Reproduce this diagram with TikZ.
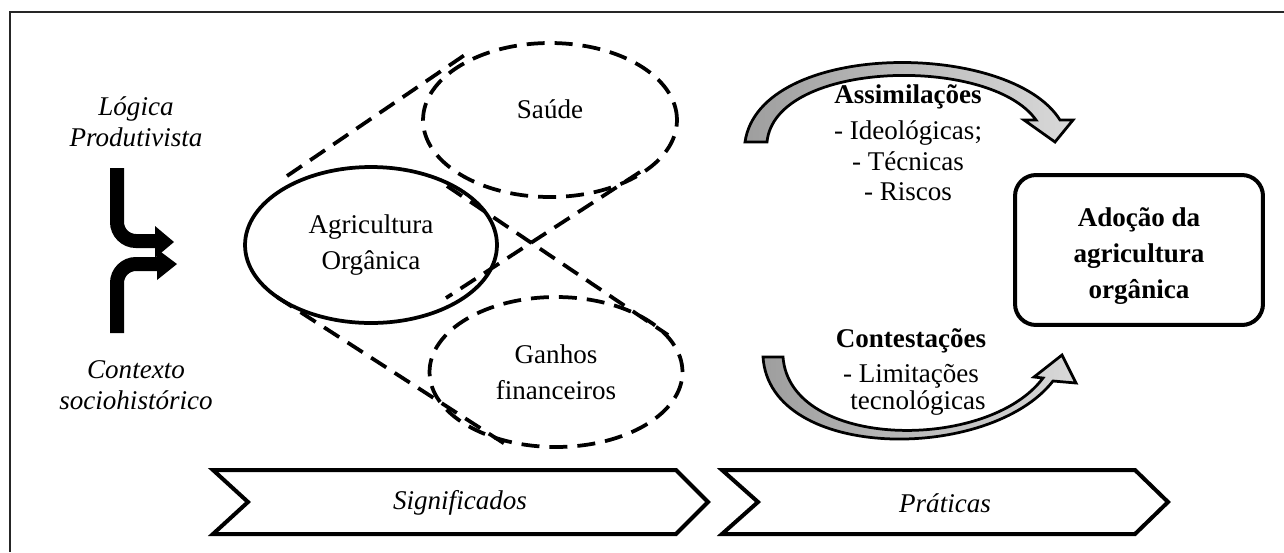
\documentclass[tikz,border=0pt]{standalone}
\usepackage{fontspec}
\setmainfont{Liberation Serif}
\usetikzlibrary{shapes.geometric}
\begin{document}
\begin{tikzpicture}[x=0.02cm,y=-0.02cm,
  every node/.style={inner sep=0pt},
  txt/.style={font=\fontsize{15.4}{20.5}\selectfont, align=center},
  lst/.style={font=\fontsize{15.4}{18}\selectfont, align=center},
  itxt/.style={font=\fontsize{15.4}{17.8}\selectfont\itshape, align=center},
  btxt/.style={font=\fontsize{15.4}{20.5}\selectfont\bfseries, align=center},
  solidell/.style={ellipse, draw, line width=0.075cm},
  dashell/.style={ellipse, draw, line width=0.075cm, dash pattern=on 0.36cm off 0.2cm},
  dashln/.style={line width=0.075cm, dash pattern=on 0.36cm off 0.2cm},
  bar/.style={line width=0.28cm, rounded corners=0.38cm},
  chev/.style={draw, line width=0.08cm, miter limit=10},
  curvarr/.style={draw, line width=0.055cm, left color=black!38, right color=black!15, line join=miter},
  adbox/.style={draw, line width=0.08cm, rounded corners=0.42cm, minimum width=4.96cm, minimum height=3cm}
]
\useasboundingbox (0,0) rectangle (1284,552);
% outer frame
\draw[line width=0.03cm, black!85] (10,552) -- (10,12) -- (1284,12);

% left texts
\node[itxt] (logica) at (136,122) {Lógica\\Produtivista};
\node[itxt] (contexto) at (136,385) {Contexto\\sociohistórico};

% merging arrows
\draw[bar] (117,168) -- (117,241) -- (158,241);
\fill (155,226) -- (174,242) -- (155,258) -- cycle;
\draw[bar] (117,333) -- (117,264) -- (159,264);
\fill (157,249) -- (177,264) -- (157,280) -- cycle;

% ellipses
\node[solidell, txt, minimum width=5.04cm, minimum height=3.12cm] (agri) at (371,245) {Agricultura\\Orgânica};
\node[dashell, minimum width=5.08cm, minimum height=3.08cm] (saude) at (550,120) {};
\node[txt] (saudetxt) at (550,109) {Saúde};
\node[dashell, txt, minimum width=5.06cm, minimum height=3.0cm] (ganhos) at (556,372) {Ganhos\\financeiros};

% tangent dashed lines
\coordinate (l1a) at (287,176); \coordinate (l1b) at (472,50);
\coordinate (l2a) at (640,172); \coordinate (l2b) at (446,298);
\coordinate (l3a) at (447,186); \coordinate (l3b) at (668,335);
\coordinate (l4a) at (277,297); \coordinate (l4b) at (505,444);
\draw[dashln] (l1a) -- (l1b);
\draw[dashln] (l2a) -- (l2b);
\draw[dashln] (l3a) -- (l3b);
\draw[dashln] (l4a) -- (l4b);

% curved arrows
\path[curvarr] (745,142) .. controls (760,40) and (1010,40) .. (1060,120) -- (1073,120) -- (1055,142) -- (1024,120) -- (1036,120) .. controls (990,55) and (775,60) .. (767,142) -- cycle;
\path[curvarr] (763,357) .. controls (770,462) and (990,462) .. (1053,381) -- (1076,383) -- (1062,355) -- (1034,377) -- (1043,378) .. controls (988,452) and (790,450) .. (783,357) -- cycle;

% right texts
\node[lst] (assim) at (908,143) {\textbf{Assimilações}\\[2pt]- Ideológicas;\\- Técnicas\\[-1pt]- Riscos};
\node[lst] (contest) at (911,372) {\textbf{Contestações}\\[2.4pt]- Limitações\\[-2.7pt]\hspace*{8pt}tecnológicas};

% result box
\node[adbox] (adocao) at (1139,250) {};
\node[btxt] (adocaotxt) at (1139,256) {Adoção da\\agricultura\\orgânica};

% chevrons
\draw[chev] (213,470) -- (676,470) -- (708,502) -- (676,534) -- (213,534) -- (248,502) -- cycle;
\draw[chev] (722,470) -- (1135,470) -- (1168,502) -- (1135,534) -- (722,534) -- (758,502) -- cycle;
\node[itxt] (sig) at (460,503) {Significados};
\node[itxt] (prat) at (945,503) {Práticas};
\end{tikzpicture}
\end{document}
